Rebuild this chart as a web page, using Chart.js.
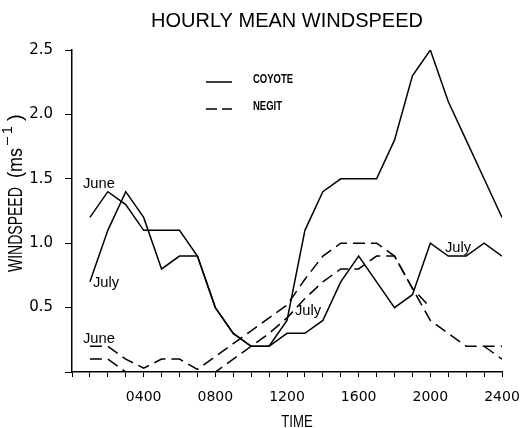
<!DOCTYPE html>
<html>
<head>
<meta charset="utf-8">
<script src="https://cdn.jsdelivr.net/npm/chart.js@4.4.1/dist/chart.umd.min.js"></script>
<style>
  html, body { margin: 0; padding: 0; background: #fff; }
  #wrap { width: 522px; height: 428px; position: relative; }
</style>
</head>
<body>
<div id="wrap"><canvas id="windChart"></canvas></div>
<script>
// hour of day and hourly mean windspeed (m/s)
const hours = [1, 2, 3, 4, 5, 6, 7, 8, 9, 10, 11, 12, 13, 14, 15, 16, 17, 18, 19, 20, 21, 22, 23, 24]
const coyoteJune = [1.2, 1.4, 1.3, 1.1, 1.1, 1.1, 0.9, 0.5, 0.3, 0.2, 0.2, 0.4, 1.1, 1.4, 1.5, 1.5, 1.5, 1.8, 2.3, 2.5, 2.1, 1.8, 1.5, 1.2]
const coyoteJuly = [0.7, 1.1, 1.4, 1.2, 0.8, 0.9, 0.9, 0.5, 0.3, 0.2, 0.2, 0.3, 0.3, 0.4, 0.7, 0.9, 0.7, 0.5, 0.6, 1.0, 0.9, 0.9, 1.0, 0.9]
const negitJune = [0.2, 0.2, 0.1, 0.03, 0.1, 0.1, 0.02, 0.12, 0.22, 0.32, 0.42, 0.52, 0.72, 0.9, 1.0, 1.0, 1.0, 0.9, 0.65, 0.4, 0.3, 0.2, 0.2, 0.2]
const negitJuly = [0.1, 0.1, 0, 0, 0, 0, 0, 0, 0.1, 0.2, 0.3, 0.42, 0.57, 0.7, 0.8, 0.8, 0.9, 0.9, 0.65, 0.5, null, null, 0.2, 0.1]
const xTickHours = [4, 8, 12, 16, 20, 24]
const xTickLabels = ['0400', '0800', '1200', '1600', '2000', '2400']

const toPoints = (ys) => hours.map((h, i) => ({ x: h, y: ys[i] }))

// draw text squeezed sideways, the plot font is narrow
function squeezeText(ctx, text, x, y, font, sx, align) {
  ctx.save()
  ctx.font = font
  ctx.translate(x, y)
  ctx.scale(sx, 1)
  ctx.textAlign = align || 'left'
  ctx.textBaseline = 'alphabetic'
  ctx.fillText(text, 0, 0)
  ctx.restore()
}

const annotations = {
  id: 'annotations',
  afterDraw(chart) {
    const ctx = chart.ctx
    ctx.save()
    ctx.fillStyle = '#000'
    ctx.strokeStyle = '#000'

    // title
    ctx.font = '20px "Liberation Sans", Arial, sans-serif'
    ctx.textAlign = 'center'
    ctx.fillText('HOURLY MEAN WINDSPEED', 287, 27)

    // legend
    ctx.lineWidth = 1.5
    ctx.beginPath()
    ctx.moveTo(206, 82)
    ctx.lineTo(232, 82)
    ctx.stroke()
    ctx.setLineDash([11, 5])
    ctx.beginPath()
    ctx.moveTo(206, 109)
    ctx.lineTo(232, 109)
    ctx.stroke()
    ctx.setLineDash([])
    squeezeText(ctx, 'COYOTE', 253, 83, 'bold 12px "Liberation Sans", Arial, sans-serif', 0.79)
    squeezeText(ctx, 'NEGIT', 253, 110, 'bold 12px "Liberation Sans", Arial, sans-serif', 0.79)

    // month labels next to the lines
    const lab = '14px "Liberation Sans", Arial, sans-serif'
    squeezeText(ctx, 'June', 83, 188, lab, 1.05)
    squeezeText(ctx, 'July', 93, 287, lab, 1.05)
    squeezeText(ctx, 'June', 83, 343, lab, 1.05)
    squeezeText(ctx, 'July', 295, 315, lab, 1.05)
    squeezeText(ctx, 'July', 445, 252, lab, 1.05)

    // x axis title
    squeezeText(ctx, 'TIME', 297, 427, '16px "Liberation Sans", Arial, sans-serif', 0.82, 'center')

    // y axis title, rotated (text x runs up the page)
    const big = '20px "Liberation Sans", Arial, sans-serif'
    const sup = '14px "Liberation Sans", Arial, sans-serif'
    ctx.save()
    ctx.translate(21.5, 0)
    ctx.rotate(-Math.PI / 2)
    squeezeText(ctx, 'WINDSPEED', -272, 0, big, 0.7)
    squeezeText(ctx, '(ms', -178, 0, big, 0.9)
    squeezeText(ctx, '\u2212', -146, -10, sup, 1.15)
    squeezeText(ctx, '1', -134, -10, sup, 1.0)
    squeezeText(ctx, ')', -121, 0, big, 1.0)
    ctx.restore()

    ctx.restore()
  }
}

const lineStyle = {
  borderColor: '#000',
  borderWidth: 1.5,
  pointRadius: 0,
  tension: 0,
  fill: false,
  spanGaps: false
}

new Chart(document.getElementById('windChart').getContext('2d'), {
  type: 'line',
  data: {
    datasets: [
      { label: 'COYOTE June', data: toPoints(coyoteJune), ...lineStyle },
      { label: 'COYOTE July', data: toPoints(coyoteJuly), ...lineStyle },
      { label: 'NEGIT June', data: toPoints(negitJune), ...lineStyle, borderDash: [12, 6] },
      { label: 'NEGIT July', data: toPoints(negitJuly), ...lineStyle, borderDash: [12, 6] }
    ]
  },
  options: {
    responsive: true,
    maintainAspectRatio: false,
    animation: false,
    layout: {
      padding: { top: 50, right: 20, left: 0, bottom: 0 }
    },
    scales: {
      x: {
        type: 'linear',
        min: 0,
        max: 24,
        afterFit: (scale) => {
          scale.height = 56
          scale.paddingLeft = 0
          scale.paddingRight = 0
        },
        border: { display: true, color: '#000', width: 1.5 },
        grid: { drawOnChartArea: false, drawTicks: true, tickLength: 5, color: '#000', lineWidth: 1 },
        ticks: {
          stepSize: 1,
          autoSkip: false,
          maxRotation: 0,
          padding: 12,
          color: '#000',
          font: { family: 'DejaVu Sans', size: 14 },
          callback: (v) => {
            const i = xTickHours.indexOf(v)
            return i >= 0 ? xTickLabels[i] : ''
          }
        }
      },
      y: {
        min: 0,
        max: 2.5,
        afterFit: (scale) => {
          scale.width = 72
          scale.paddingTop = 0
          scale.paddingBottom = 0
        },
        border: { display: true, color: '#000', width: 1.5 },
        grid: { drawOnChartArea: false, drawTicks: true, tickLength: 7, color: '#000', lineWidth: 1 },
        ticks: {
          stepSize: 0.5,
          padding: 12,
          color: '#000',
          font: { family: 'DejaVu Sans', size: 15 },
          callback: (v) => (v === 0 ? '' : v.toFixed(1))
        }
      }
    },
    plugins: {
      legend: { display: false },
      title: { display: false },
      tooltip: { enabled: false }
    }
  },
  plugins: [annotations]
})
</script>
</body>
</html>
